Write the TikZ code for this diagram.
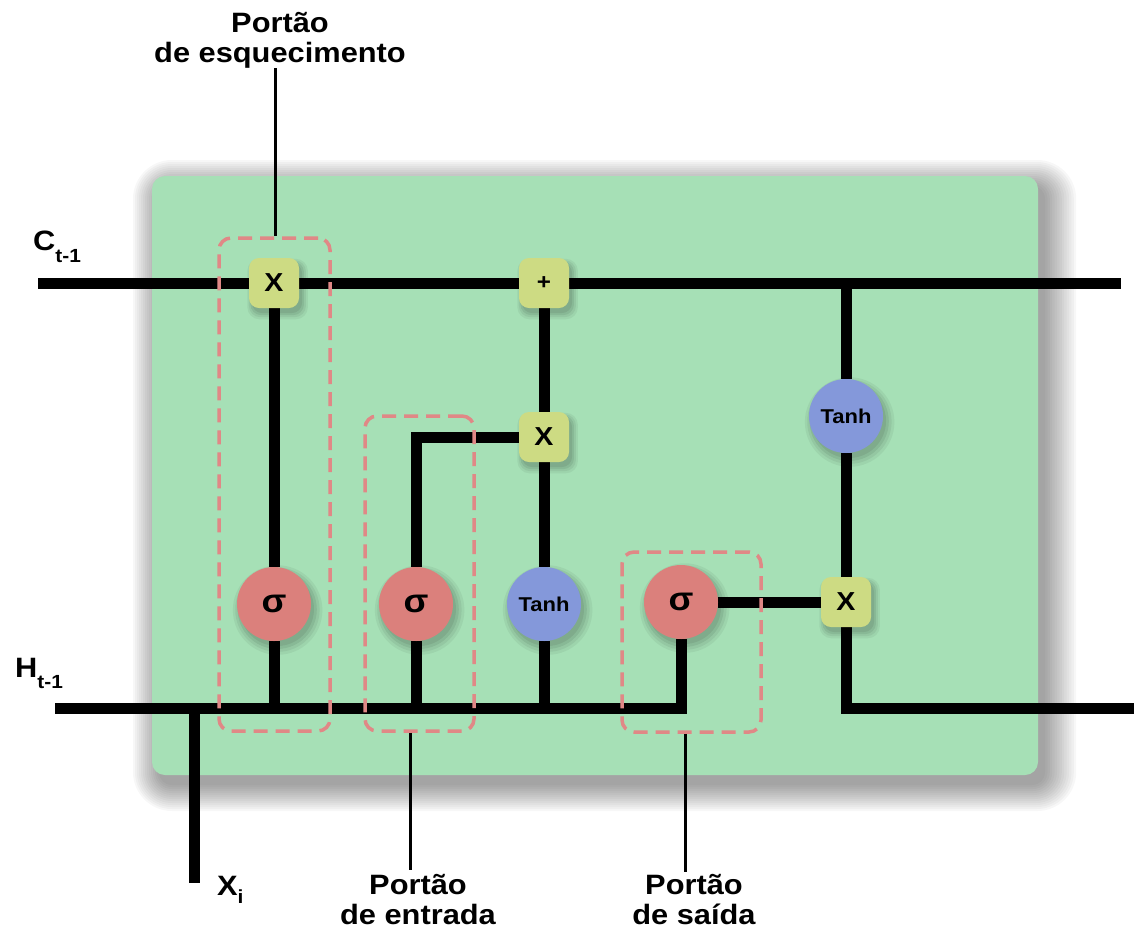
\documentclass[tikz,border=0pt]{standalone}
\usepackage{fontspec}
\setmainfont[FakeStretch=1.1]{Liberation Sans}
\usetikzlibrary{shadows}
\definecolor{cellgreen}{HTML}{A6E0B6}
\definecolor{opy}{HTML}{CDDB83}
\definecolor{sigred}{HTML}{DB807C}
\definecolor{tanhblue}{HTML}{8498DA}
\definecolor{dashred}{HTML}{E08886}
\pgfdeclarelayer{back}
\pgfdeclarelayer{wires}
\pgfsetlayers{back,wires,main}
\begin{document}
\begin{tikzpicture}[x=1pt,y=-1pt,
  wire/.style={line width=11pt},
  tick/.style={line width=3pt},
  nshadow/.style={
    general shadow={shadow scale=1.00, shadow xshift=3pt, shadow yshift=-5pt, fill=black, opacity=.07},
    general shadow={shadow scale=1.07, shadow xshift=3pt, shadow yshift=-5pt, fill=black, opacity=.07},
    general shadow={shadow scale=1.14, shadow xshift=3pt, shadow yshift=-5pt, fill=black, opacity=.06},
    general shadow={shadow scale=1.21, shadow xshift=3pt, shadow yshift=-5pt, fill=black, opacity=.05}},
  opsq/.style={fill=opy, rounded corners=10pt, minimum size=50pt, inner sep=0pt, nshadow},
  sig/.style={circle, fill=sigred, minimum size=74pt, inner sep=0pt, font=\bfseries\fontsize{33}{33}\selectfont, nshadow},
  tanhc/.style={circle, fill=tanhblue, minimum size=74pt, inner sep=0pt, font=\bfseries\fontsize{20}{20}\selectfont, nshadow},
  gatebox/.style={draw=dashred, line width=3.5pt, dash pattern=on 14pt off 8pt, rounded corners=12pt, inner sep=0pt},
  lbl/.style={align=center, font=\bfseries\fontsize{28}{30}\selectfont, inner sep=0pt},
  var/.style={anchor=base west, inner sep=0pt, font=\bfseries\fontsize{28}{28}\selectfont},
]
\useasboundingbox (0,0) rectangle (1139,932);

% cell body with soft shadow
\begin{pgfonlayer}{back}
\foreach \i in {0,...,13}{
  \fill[black, opacity=0.032, rounded corners={13pt+2pt*\i}]
    ({152-2*\i+7},{176-2*\i+10}) rectangle ({1038+2.4*\i+7},{775+2*\i+10});
}
\fill[cellgreen, rounded corners=13pt] (152,176) rectangle (1038,775);
\end{pgfonlayer}

% dashed gate boxes
\node[gatebox, minimum width=111pt, minimum height=493pt] (fbox) at (274.5,484.5) {};
\node[gatebox, minimum width=109pt, minimum height=315pt] (ibox) at (419.5,573.5) {};
\node[gatebox, minimum width=139pt, minimum height=180pt] (obox) at (691.5,642) {};

% operation nodes
\node[opsq, font=\bfseries\fontsize{26}{26}\selectfont] (fx) at (274,283) {X};
\node[opsq, font=\bfseries\fontsize{22}{22}\selectfont] (plus) at (544,283) {+};
\node[opsq, font=\bfseries\fontsize{26}{26}\selectfont] (mx) at (544,437) {X};
\node[opsq, font=\bfseries\fontsize{26}{26}\selectfont] (ox) at (846,602) {X};
\node[sig] (fs) at (274,604) {σ};
\node[sig] (is) at (416,604) {σ};
\node[sig] (os) at (681,602) {σ};
\node[tanhc] (t1) at (544,604) {Tanh};
\node[tanhc] (t2) at (846,416) {Tanh};

% wire coordinates
\coordinate (cl) at (38,283);
\coordinate (cr) at (1121,283);
\coordinate (cj) at (846,283);
\coordinate (hl) at (55,708);
\coordinate (fh) at (274,708);
\coordinate (ih) at (416,708);
\coordinate (ic) at (416,437);
\coordinate (th) at (544,708);
\coordinate (oh) at (681,708);
\coordinate (oc) at (846,708);
\coordinate (hr) at (1134,708);
\coordinate (xj) at (194,708);
\coordinate (xe) at (194,883);

\begin{pgfonlayer}{wires}
\draw[wire] (cl) -- (fx) -- (plus) -- (cr);
\draw[wire] (cj) -- (t2) -- (ox) -- (oc) -- (hr);
\draw[wire] (fx) -- (fs) -- (fh);
\draw[wire] (hl) -- (oh) -- (os);
\draw[wire] (ih) -- (is) -- (ic) -- (mx);
\draw[wire] (th) -- (t1) -- (mx) -- (plus);
\draw[wire] (os) -- (ox);
\draw[wire] (xj) -- (xe);
\end{pgfonlayer}

% labels
\node[lbl, anchor=north] (lf) at (280,12) {Portão\\de esquecimento};
\node[lbl, anchor=north] (li) at (418,874) {Portão\\de entrada};
\node[lbl, anchor=north] (lo) at (694,874) {Portão\\de saída};
\coordinate (fe) at (275,68);
\coordinate (ie) at (410,870);
\coordinate (oe) at (685,872);
\draw[tick] (fe) -- (fbox.north -| fe);
\draw[tick] (ibox.south -| ie) -- (ie);
\draw[tick] (obox.south -| oe) -- (oe);

\node[var] (ct) at (33,250) {C\raisebox{-12pt}{\fontsize{19}{19}\selectfont t-1}};
\node[var] (ht) at (15,677) {H\raisebox{-11pt}{\fontsize{19}{19}\selectfont t-1}};
\node[var] (xi) at (217,895) {X\raisebox{-8pt}{\fontsize{19}{19}\selectfont i}};
\end{tikzpicture}
\end{document}
